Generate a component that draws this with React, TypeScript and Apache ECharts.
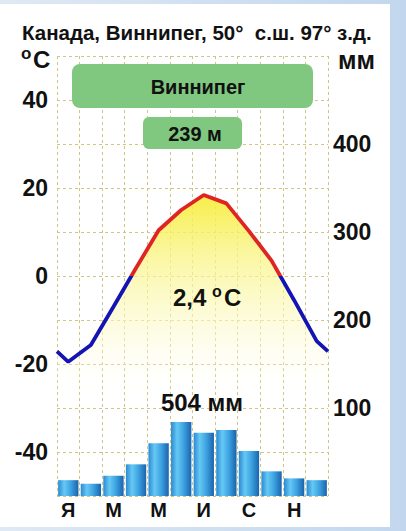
import React, { useEffect, useRef } from "react";
import * as echarts from "echarts";

const months = ["Я", "Ф", "М", "А", "М", "И", "И", "А", "С", "О", "Н", "Д"];
const temps = [-19.5, -15.7, -7, 1.8, 10.4, 15, 18.4, 16.5, 10.2, 3.5, -5.5, -14.8];
const precip = [18, 14, 23, 36, 60, 84, 72, 75, 51, 28, 20, 18];
const tempLabels = [40, 20, 0, -20, -40];
const precipLabels = [100, 200, 300, 400];

const FONT = "Liberation Sans, Arial, sans-serif";
const GRID = "#cfc585";

export default function App() {
  const ref = useRef<HTMLDivElement>(null);
  useEffect(() => {
    if (!ref.current) return;
    const chart = echarts.init(ref.current, undefined, { renderer: "svg" });
    const edge = (temps[0] + temps[11]) / 2;
    const lineData: number[][] = [[0, edge]];
    temps.forEach((t, i) => lineData.push([i + 0.5, t]));
    lineData.push([12, edge]);

    const txt = (x: number, y: number, text: string, size: number, align = "left") => ({
      type: "text",
      x,
      y,
      style: {
        text,
        fill: "#111",
        font: `bold ${size}px ${FONT}`,
        align,
        verticalAlign: "middle",
      },
    });

    chart.setOption({
      animation: false,
      grid: { left: 57, right: 78, top: 56, bottom: 35 },
      xAxis: [
        {
          type: "category",
          data: months,
          axisLine: { show: false },
          axisTick: { show: false },
          axisLabel: {
            interval: 1,
            fontSize: 20,
            fontWeight: "bold",
            fontFamily: FONT,
            color: "#111",
            margin: 4,
          },
          splitLine: {
            show: true,
            interval: 0,
            lineStyle: { color: GRID, type: [3, 3], width: 1 },
          },
        },
        { type: "value", min: 0, max: 12, show: false },
      ],
      yAxis: [
        {
          type: "value",
          min: -50,
          max: 50,
          interval: 10,
          axisLine: { show: false },
          axisTick: { show: false },
          axisLabel: {
            formatter: (v: number) => (tempLabels.includes(v) ? String(v) : ""),
            fontSize: 23,
            fontWeight: "bold",
            fontFamily: FONT,
            color: "#111",
            margin: 9,
          },
          splitLine: { show: true, lineStyle: { color: GRID, type: [3, 3], width: 1 } },
        },
        {
          type: "value",
          min: 0,
          max: 500,
          interval: 50,
          position: "right",
          axisLine: { show: false },
          axisTick: { show: false },
          axisLabel: {
            formatter: (v: number) => (precipLabels.includes(v) ? String(v) : ""),
            fontSize: 23,
            fontWeight: "bold",
            fontFamily: FONT,
            color: "#111",
            margin: 5,
          },
          splitLine: { show: false },
        },
      ],
      visualMap: {
        show: false,
        type: "piecewise",
        seriesIndex: 0,
        dimension: 1,
        pieces: [
          { min: -60, max: 0, color: "#1414b4" },
          { min: 0, max: 60, color: "#e02424" },
        ],
      },
      series: [
        {
          type: "line",
          xAxisIndex: 1,
          yAxisIndex: 0,
          data: lineData,
          symbol: "none",
          lineStyle: { width: 3.8 },
          areaStyle: {
            origin: "start",
            opacity: 1,
            color: new echarts.graphic.LinearGradient(0, 0, 0, 1, [
              { offset: 0, color: "rgba(246,236,50,0.9)" },
              { offset: 0.2, color: "rgba(249,244,130,0.75)" },
              { offset: 0.45, color: "rgba(252,250,205,0.55)" },
              { offset: 0.68, color: "rgba(255,255,255,0)" },
              { offset: 1, color: "rgba(255,255,255,0)" },
            ]),
          },
          z: 2,
        },
        {
          type: "bar",
          xAxisIndex: 0,
          yAxisIndex: 1,
          data: precip,
          barCategoryGap: "10%",
          itemStyle: {
            color: new echarts.graphic.LinearGradient(0, 0, 1, 0, [
              { offset: 0, color: "#2a8ad3" },
              { offset: 0.3, color: "#66c8f4" },
              { offset: 0.6, color: "#40a6e3" },
              { offset: 1, color: "#1964ad" },
            ]),
          },
          z: 3,
        },
      ],
      graphic: [
        txt(22, 32, "Канада, Виннипег, 50°  с.ш. 97° з.д.", 20.5),
        txt(21, 53, "o", 17),
        txt(33, 59, "C", 24),
        txt(338, 60, "мм", 25),
        {
          type: "rect",
          shape: { x: 72, y: 64, width: 241, height: 44, r: 8 },
          style: { fill: "#80c880" },
          z: 10,
        },
        { ...txt(198, 87, "Виннипег", 20, "center"), z: 11 },
        {
          type: "rect",
          shape: { x: 143, y: 117, width: 99, height: 32, r: 6 },
          style: { fill: "#80c880" },
          z: 10,
        },
        { ...txt(195, 134, "239 м", 20, "center"), z: 11 },
        { ...txt(173, 297, "2,4", 24), z: 11 },
        { ...txt(212, 291, "o", 16), z: 11 },
        { ...txt(224, 297, "C", 24), z: 11 },
        { ...txt(202, 402, "504 мм", 24, "center"), z: 11 },
      ],
    });
    return () => chart.dispose();
  }, []);

  return (
    <div
      style={{
        position: "absolute",
        left: 0,
        top: 0,
        width: 406,
        height: 531,
        background: "linear-gradient(to right, #dfe9f4, #c2d7ee)",
      }}
    >
      <div
        style={{
          position: "absolute",
          left: 0,
          top: 4,
          width: 390,
          height: 523,
          background: "#ffffff",
        }}
      />
      <div ref={ref} style={{ position: "absolute", left: 0, top: 0, width: 406, height: 531 }} />
    </div>
  );
}
